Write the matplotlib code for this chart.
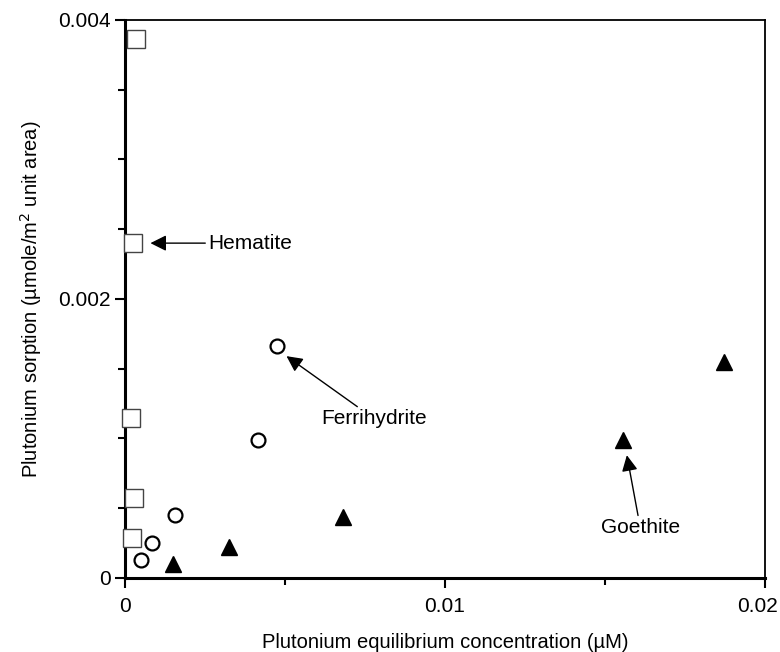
import matplotlib.pyplot as plt
import matplotlib.transforms as mtransforms
from matplotlib.ticker import MultipleLocator, FixedLocator

plt.rcParams['font.family'] = ['Liberation Sans', 'DejaVu Sans']

# Hematite (open squares)
hem_x = [0.00034, 0.00025, 0.00020, 0.00030, 0.00022]
hem_y = [0.00386, 0.00240, 0.00115, 0.00057, 0.00029]

# Ferrihydrite (open circles)
fer_x = [0.00475, 0.00416, 0.00156, 0.00085, 0.00050]
fer_y = [0.00166, 0.00099, 0.00045, 0.00025, 0.00013]

# Goethite (filled triangles)
goe_x = [0.00150, 0.00325, 0.00681, 0.01556, 0.01872]
goe_y = [0.00010, 0.00022, 0.00044, 0.00099, 0.00155]

fig = plt.figure(figsize=(7.8, 6.52), dpi=100)
ax = fig.add_axes([0.160, 0.1135, 0.821, 0.856])

ax.plot(hem_x, hem_y, 's', ms=13, mfc='white', mec='#444444', mew=1.0, ls='none', clip_on=False, zorder=3)
ax.plot(fer_x, fer_y, 'o', ms=10, mfc='white', mec='black', mew=1.6, ls='none', clip_on=False, zorder=3)
ax.plot(goe_x, goe_y, '^', ms=11, mfc='black', mec='black', ls='none', clip_on=False, zorder=3)

ax.set_xlim(0, 0.02)
ax.set_ylim(0, 0.004)

ax.xaxis.set_major_locator(FixedLocator([0, 0.01, 0.02]))
ax.xaxis.set_minor_locator(MultipleLocator(0.005))
ax.yaxis.set_major_locator(FixedLocator([0, 0.002, 0.004]))
ax.yaxis.set_minor_locator(MultipleLocator(0.0005))
ax.set_xticklabels(['0', '0.01', '0.02'])
ax.set_yticklabels(['0', '0.002', '0.004'])
ax.tick_params(which='both', direction='out', top=False, right=False, width=1.5, labelsize=15)
ax.tick_params(which='major', length=7)
ax.tick_params(which='minor', length=5)
ax.tick_params(axis='x', which='major', pad=7)
ax.tick_params(axis='y', which='major', pad=3)

# keep the last x label inside the figure
last = ax.get_xticklabels()[-1]
last.set_transform(last.get_transform() + mtransforms.ScaledTranslation(-8 / 100, 0, fig.dpi_scale_trans))

for s in ax.spines.values():
    s.set_linewidth(1.3)
ax.spines['left'].set_linewidth(2.2)
ax.spines['bottom'].set_linewidth(2.2)

ax.set_xlabel('Plutonium equilibrium concentration (\u00b5M)', fontsize=14.5, labelpad=12)
ax.set_ylabel('Plutonium sorption (\u00b5mole/m$^2$ unit area)', fontsize=14.5, labelpad=10)

arrow = dict(arrowstyle='-|>', color='black', lw=1.0, mutation_scale=24, shrinkA=0, shrinkB=0)
ax.annotate('Hematite', xy=(hem_x[1] + 0.00055, hem_y[1]), xytext=(0.00260, hem_y[1]),
            fontsize=15, va='center', ha='left', arrowprops=arrow)
ax.annotate('Ferrihydrite', xy=(0.00505, 0.00159), xytext=(0.00615, 0.00114),
            fontsize=15, va='center', ha='left', arrowprops=arrow)
ax.annotate('Goethite', xy=(0.01568, 0.00088), xytext=(0.01610, 0.00036),
            fontsize=15, va='center', ha='center', arrowprops=arrow)

fig.savefig('out.png', dpi=100)
